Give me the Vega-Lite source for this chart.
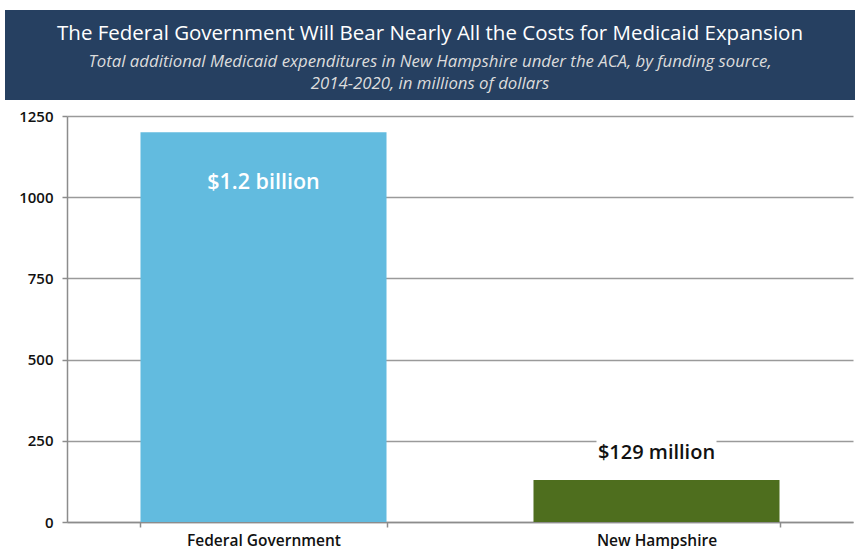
{
  "$schema": "https://vega.github.io/schema/vega-lite/v6.json",
  "padding": {"left": 5, "top": 10, "right": 0, "bottom": 0},
  "background": "white",
  "spacing": 9,
  "config": {
    "font": "Open Sans",
    "axis": {"labelFont": "Open Sans", "labelFontWeight": 600, "labelFontSize": 15, "labelColor": "#111111", "domainColor": "#8c8c8c", "tickColor": "#8c8c8c", "gridColor": "#9a9a9a", "domainWidth": 1.5, "tickWidth": 1.5, "gridWidth": 1.5}
  },
  "vconcat": [
    {
      "width": 850,
      "height": 90,
      "view": {"fill": "#264061", "stroke": null},
      "data": {"values": [
        {"line": "t", "text": "The Federal Government Will Bear Nearly All the Costs for Medicaid Expansion"},
        {"line": "s1", "text": "Total additional Medicaid expenditures in New Hampshire under the ACA, by funding source,"},
        {"line": "s2", "text": "2014-2020, in millions of dollars"}
      ]},
      "layer": [
        {
          "transform": [{"filter": "datum.line === 't'"}],
          "mark": {"type": "text", "font": "Open Sans", "fontSize": 20.5, "color": "white", "baseline": "middle", "align": "center", "dy": -21},
          "encoding": {"text": {"field": "text"}}
        },
        {
          "transform": [{"filter": "datum.line === 's1'"}],
          "mark": {"type": "text", "font": "Open Sans", "fontSize": 16.8, "fontStyle": "italic", "color": "#dcdcdc", "baseline": "middle", "align": "center", "dy": 7},
          "encoding": {"text": {"field": "text"}}
        },
        {
          "transform": [{"filter": "datum.line === 's2'"}],
          "mark": {"type": "text", "font": "Open Sans", "fontSize": 16.8, "fontStyle": "italic", "color": "#dcdcdc", "baseline": "middle", "align": "center", "dy": 29},
          "encoding": {"text": {"field": "text"}}
        }
      ]
    },
    {
      "width": 850,
      "height": 406,
      "view": {"stroke": null},
      "data": {"values": [
        {"source": "Federal Government", "value": 1200, "label": "$1.2 billion"},
        {"source": "New Hampshire", "value": 129, "label": "$129 million"}
      ]},
      "encoding": {
        "x": {"field": "source", "type": "nominal", "sort": null,
              "scale": {"range": [62, 848], "paddingInner": 0.374, "paddingOuter": 0.187},
              "axis": {"title": null, "labelAngle": 0, "tickBand": "extent", "tickSize": 5, "labelPadding": 6, "grid": false, "labelFontSize": 15.5}}
      },
      "layer": [
        {
          "mark": {"type": "bar"},
          "encoding": {
            "y": {"field": "value", "type": "quantitative", "scale": {"domain": [0, 1250], "nice": false},
                  "axis": {"title": null, "format": "d", "values": [0, 250, 500, 750, 1000, 1250], "grid": true, "tickSize": 5, "labelPadding": 9, "offset": -62}},
            "color": {"field": "source", "type": "nominal", "sort": null, "scale": {"range": ["#62BBDF", "#4E6E1E"]}, "legend": null}
          }
        },
        {
          "transform": [{"filter": "datum.source === 'New Hampshire'"}],
          "mark": {"type": "bar", "color": "white", "width": 120},
          "encoding": {
            "y": {"datum": 170, "type": "quantitative"},
            "y2": {"datum": 285}
          }
        },
        {
          "transform": [{"filter": "datum.source === 'Federal Government'"}],
          "mark": {"type": "text", "font": "Open Sans", "fontSize": 21.5, "fontWeight": 600, "color": "white", "baseline": "middle", "dy": 51},
          "encoding": {
            "y": {"field": "value", "type": "quantitative"},
            "text": {"field": "label"}
          }
        },
        {
          "transform": [{"filter": "datum.source === 'New Hampshire'"}],
          "mark": {"type": "text", "font": "Open Sans", "fontSize": 20, "fontWeight": 600, "color": "#111111", "baseline": "middle", "dy": -27},
          "encoding": {
            "y": {"field": "value", "type": "quantitative"},
            "text": {"field": "label"}
          }
        }
      ]
    }
  ]
}
